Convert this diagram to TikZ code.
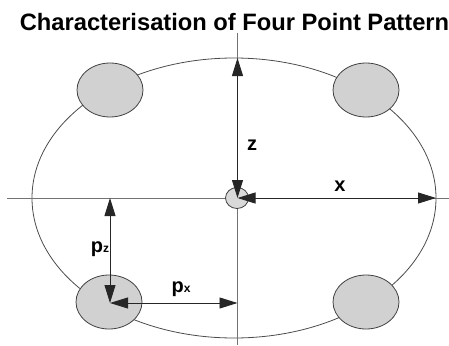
\documentclass[tikz,border=0pt]{standalone}
\usepackage{fontspec}
\setmainfont{Liberation Sans}
\usetikzlibrary{arrows.meta,shapes.geometric}
\begin{document}
\begin{tikzpicture}[x=1pt,y=-1pt,
  axis/.style={draw=black!55, line width=0.8pt},
  rim/.style={draw=black!70, line width=0.8pt},
  blob/.style={draw=black!75, fill=black!18, line width=0.8pt},
  dim/.style={draw=black!85, line width=0.9pt, {Triangle[length=18pt,width=11pt]}-{Triangle[length=18pt,width=11pt]}},
  lbl/.style={font=\bfseries\fontsize{20}{20}\selectfont, inner sep=0pt}]
\useasboundingbox (0,0) rectangle (449,345);
\node[font=\bfseries\fontsize{23.7}{24}\selectfont, inner sep=0pt] (title) at (234.5,22) {Characterisation of Four Point Pattern};
% ellipse
\draw[rim] (234,198) ellipse [x radius=202, y radius=140];
% axes
\coordinate (vt) at (237.5,33);
\coordinate (vb) at (237.5,345);
\coordinate (hl) at (7,198);
\coordinate (hr) at (449,198);
\draw[axis] (vt) -- (vb);
\draw[axis] (hl) -- (hr);
% blobs
\node[blob, ellipse, minimum width=66pt, minimum height=54pt, inner sep=0pt] (tl) at (110,90) {};
\node[blob, ellipse, minimum width=66pt, minimum height=54pt, inner sep=0pt] (tr) at (366,90) {};
\node[blob, ellipse, minimum width=66pt, minimum height=54pt, inner sep=0pt] (bl) at (109,302) {};
\node[blob, ellipse, minimum width=66pt, minimum height=54pt, inner sep=0pt] (br) at (366,302) {};
\draw[blob, fill=black!15] (237,198) ellipse [x radius=11.5, y radius=10.5];
\coordinate (c) at (237.5,198);
\coordinate (top) at (237.5,58);
\coordinate (right) at (436,198);
\coordinate (pzt) at (110,198);
\coordinate (pzb) at (110,303);
\coordinate (pxr) at (237.5,303);
\draw[dim] (c) -- (top);
\draw[dim] (c) -- (right);
\draw[dim] (pzt) -- (pzb);
\draw[dim] (pzb) -- (pxr);
\node[lbl] (z) at (252,145) {z};
\node[lbl] (x) at (340,186) {x};
\node[lbl] (pz) at (100,249) {p{\fontsize{12}{12}\selectfont z}};
\node[lbl] (px) at (181,289) {p{\fontsize{12}{12}\selectfont x}};
\end{tikzpicture}
\end{document}
